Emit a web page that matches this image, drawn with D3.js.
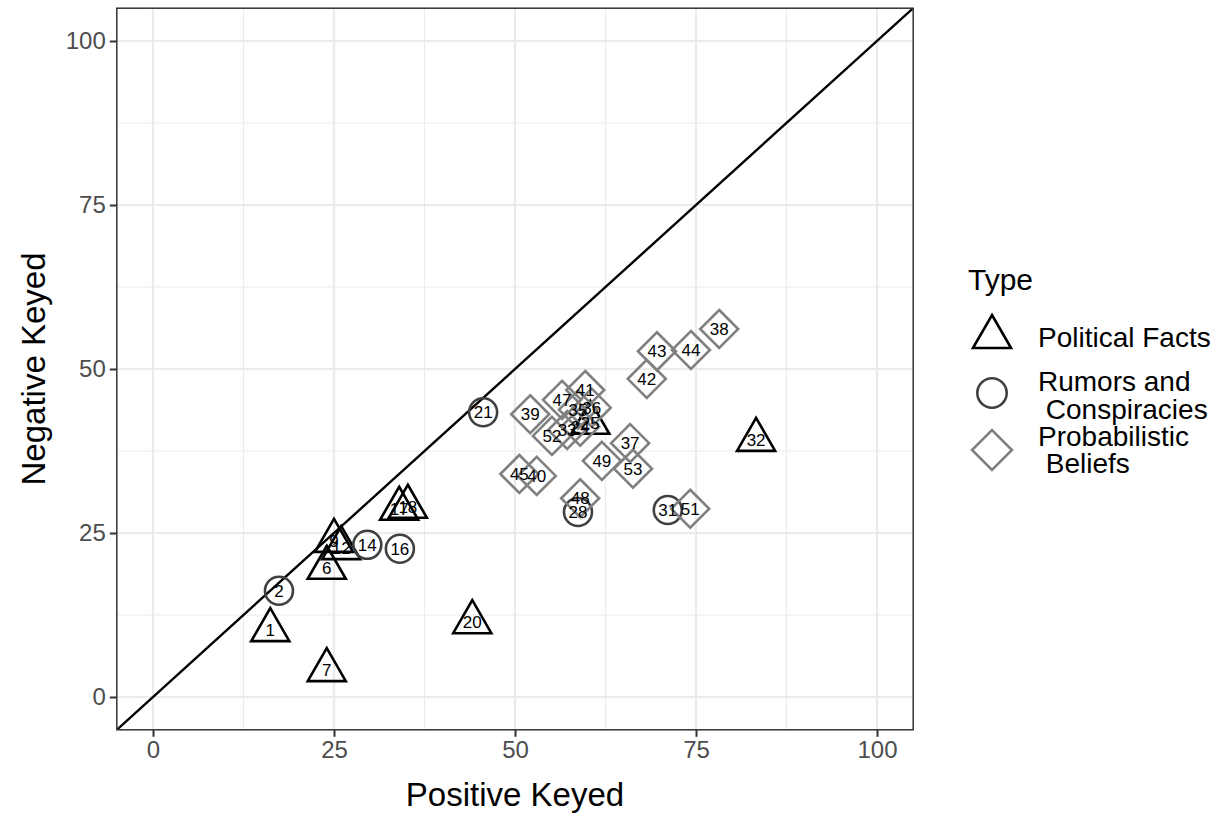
<!DOCTYPE html>
<html>
<head>
<meta charset="utf-8">
<script src="https://cdn.jsdelivr.net/npm/d3@7"></script>
<style>
  body { margin: 0; background: #fff; }
  text { font-family: "Liberation Sans", Arial, sans-serif; }
</style>
</head>
<body>
<div id="chart"></div>
<script>
// item ids, positive keyed %, negative keyed %, type
var ids = [1, 6, 7, 9, 12, 17, 18, 20, 25, 32,
           2, 14, 16, 21, 28, 31,
           24, 33, 35, 36, 37, 38, 39, 40, 41, 42, 43, 44, 45, 47, 48, 49, 51, 52, 53];
var posKeyed = [16.2, 24.0, 24.0, 25.0, 26.0, 34.0, 35.2, 44.1, 60.4, 83.3,
                17.4, 29.6, 34.1, 45.6, 58.7, 71.1,
                59.0, 57.2, 58.7, 60.6, 65.9, 78.2, 52.1, 53.0, 59.7, 68.2, 69.6, 74.3, 50.6, 56.5, 59.0, 62.0, 74.2, 55.1, 66.3];
var negKeyed = [10.2, 19.7, 4.1, 23.8, 22.7, 28.7, 29.0, 11.4, 41.8, 39.2,
                16.2, 23.2, 22.6, 43.4, 28.2, 28.5,
                41.2, 40.7, 43.8, 44.1, 38.7, 56.1, 43.1, 33.7, 46.8, 48.5, 52.7, 52.9, 34.0, 45.3, 30.3, 36.0, 28.7, 39.8, 34.8];
var types = ["Political Facts", "Political Facts", "Political Facts", "Political Facts", "Political Facts",
             "Political Facts", "Political Facts", "Political Facts", "Political Facts", "Political Facts",
             "Rumors and Conspiracies", "Rumors and Conspiracies", "Rumors and Conspiracies",
             "Rumors and Conspiracies", "Rumors and Conspiracies", "Rumors and Conspiracies",
             "Probabilistic Beliefs", "Probabilistic Beliefs", "Probabilistic Beliefs", "Probabilistic Beliefs",
             "Probabilistic Beliefs", "Probabilistic Beliefs", "Probabilistic Beliefs", "Probabilistic Beliefs",
             "Probabilistic Beliefs", "Probabilistic Beliefs", "Probabilistic Beliefs", "Probabilistic Beliefs",
             "Probabilistic Beliefs", "Probabilistic Beliefs", "Probabilistic Beliefs", "Probabilistic Beliefs",
             "Probabilistic Beliefs", "Probabilistic Beliefs", "Probabilistic Beliefs"];
var typeNames = ["Political Facts", "Rumors and Conspiracies", "Probabilistic Beliefs"];
var typeLines = [["Political Facts"], ["Rumors and", " Conspiracies"], ["Probabilistic", " Beliefs"]];
var ticks = [0, 25, 50, 75, 100];
var minorTicks = [12.5, 37.5, 62.5, 87.5];

var W = 1219, H = 814,
    margin = { top: 8.2, right: 305.8, bottom: 84.2, left: 116.8 },
    width = W - margin.left - margin.right,
    height = H - margin.top - margin.bottom;

var data = ids.map(function (d, i) {
    return { id: d, x: posKeyed[i], y: negKeyed[i], type: types[i] };
});

var x = d3.scaleLinear().domain([-5, 105]).range([0, width]);
var y = d3.scaleLinear().domain([-5, 105]).range([height, 0]);
var col = d3.scaleOrdinal().domain(typeNames).range(["#000000", "#404040", "#808080"]);

function shapePath(type, r) {
    if (type == "Political Facts") {
        var R = 22 * r;
        return "M0," + (-R) + "L" + (R * Math.sqrt(3) / 2) + "," + (R / 2) +
            "L" + (-R * Math.sqrt(3) / 2) + "," + (R / 2) + "Z";
    }
    if (type == "Rumors and Conspiracies") {
        var c = 14 * r;
        return "M" + c + ",0A" + c + "," + c + " 0 1,1 " + (-c) + ",0A" + c + "," + c + " 0 1,1 " + c + ",0Z";
    }
    var s = 19 * r;
    return "M0," + (-s) + "L" + s + ",0L0," + s + "L" + (-s) + ",0Z";
}

var svg = d3.select("#chart").append("svg")
    .attr("width", W)
    .attr("height", H);

var g = svg.append("g")
    .attr("transform", "translate(" + margin.left + "," + margin.top + ")");

g.append("rect").attr("width", width).attr("height", height).attr("fill", "#fff");

// grid
g.selectAll(".minorx").data(minorTicks).enter().append("line")
    .attr("x1", function (d) { return x(d); }).attr("x2", function (d) { return x(d); })
    .attr("y1", 0).attr("y2", height)
    .attr("stroke", "#EBEBEB").attr("stroke-width", 1.1);
g.selectAll(".minory").data(minorTicks).enter().append("line")
    .attr("y1", function (d) { return y(d); }).attr("y2", function (d) { return y(d); })
    .attr("x1", 0).attr("x2", width)
    .attr("stroke", "#EBEBEB").attr("stroke-width", 1.1);
g.selectAll(".majorx").data(ticks).enter().append("line")
    .attr("x1", function (d) { return x(d); }).attr("x2", function (d) { return x(d); })
    .attr("y1", 0).attr("y2", height)
    .attr("stroke", "#EBEBEB").attr("stroke-width", 2.2);
g.selectAll(".majory").data(ticks).enter().append("line")
    .attr("y1", function (d) { return y(d); }).attr("y2", function (d) { return y(d); })
    .attr("x1", 0).attr("x2", width)
    .attr("stroke", "#EBEBEB").attr("stroke-width", 2.2);

// y = x reference line
g.append("clipPath").attr("id", "clip").append("rect").attr("width", width).attr("height", height);
g.append("line")
    .attr("clip-path", "url(#clip)")
    .attr("x1", x(-5)).attr("y1", y(-5))
    .attr("x2", x(105)).attr("y2", y(105))
    .attr("stroke", "#000").attr("stroke-width", 2.4);

// points
g.selectAll(".pt").data(data).enter().append("path")
    .attr("class", "pt")
    .attr("transform", function (d) { return "translate(" + x(d.x) + "," + y(d.y) + ")"; })
    .attr("d", function (d) { return shapePath(d.type, 1); })
    .attr("fill", "none")
    .attr("stroke", function (d) { return col(d.type); })
    .attr("stroke-width", 2.6);

// labels
g.selectAll(".lbl").data(data).enter().append("text")
    .attr("x", function (d) { return x(d.x); })
    .attr("y", function (d) { return y(d.y); })
    .attr("dy", "0.36em")
    .attr("text-anchor", "middle")
    .attr("font-size", 17)
    .attr("fill", "#000")
    .text(function (d) { return d.id; });

// panel border
g.append("rect").attr("width", width).attr("height", height)
    .attr("fill", "none").attr("stroke", "#333333").attr("stroke-width", 1.5);

// axes
var xAxis = g.append("g")
    .attr("transform", "translate(0," + height + ")")
    .call(d3.axisBottom(x).tickValues(ticks).tickSize(7).tickPadding(4));
var yAxis = g.append("g")
    .call(d3.axisLeft(y).tickValues(ticks).tickSize(7).tickPadding(4));
[xAxis, yAxis].forEach(function (a) {
    a.select(".domain").remove();
    a.selectAll(".tick line").attr("stroke", "#333333").attr("stroke-width", 2);
    a.selectAll(".tick text").attr("fill", "#4D4D4D").attr("font-size", 24)
        .attr("font-family", "Liberation Sans, Arial, sans-serif");
});

svg.append("text")
    .attr("x", margin.left + width / 2).attr("y", 806)
    .attr("text-anchor", "middle").attr("font-size", 33).attr("fill", "#000")
    .text("Positive Keyed");
svg.append("text")
    .attr("transform", "translate(45," + (margin.top + height / 2) + ") rotate(-90)")
    .attr("text-anchor", "middle").attr("font-size", 33).attr("fill", "#000")
    .text("Negative Keyed");

// legend
var leg = svg.append("g");
leg.append("text").attr("x", 968).attr("y", 279).attr("dy", "0.36em")
    .attr("font-size", 30).attr("fill", "#000").text("Type");
var keyY = [337, 393, 450];
var lineY = [[337], [381, 409], [436, 463]];
typeNames.forEach(function (t, i) {
    leg.append("path")
        .attr("transform", "translate(992," + keyY[i] + ")")
        .attr("d", shapePath(t, i == 0 ? 1 : 1.05))
        .attr("fill", "none").attr("stroke", col(t)).attr("stroke-width", 2.6);
    typeLines[i].forEach(function (s, j) {
        leg.append("text").attr("x", 1038).attr("y", lineY[i][j]).attr("dy", "0.36em")
            .attr("font-size", 28).attr("fill", "#000")
            .style("white-space", "pre")
            .text(s);
    });
});
</script>
</body>
</html>
